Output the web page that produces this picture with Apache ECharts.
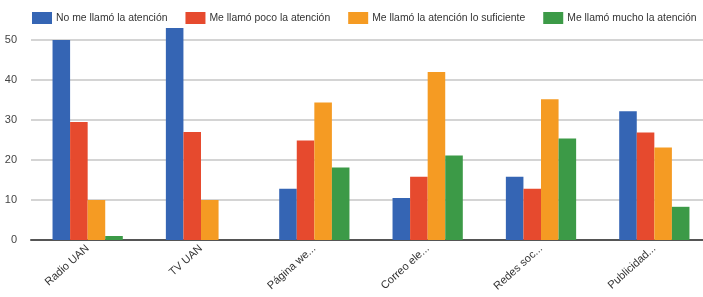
<!DOCTYPE html>
<html>
<head>
<meta charset="utf-8">
<script src="https://cdn.jsdelivr.net/npm/echarts@6/dist/echarts.min.js"></script>
<style>
  html, body { margin: 0; padding: 0; background: #fff; }
  #main { width: 703px; height: 297px; }
</style>
</head>
<body>
<div id="main"></div>
<script>
const categories = ['Radio UAN', 'TV UAN', 'Página we...', 'Correo ele...', 'Redes soc...', 'Publicidad...'];
const seriesNames = [
  'No me llamó la atención',
  'Me llamó poco la atención',
  'Me llamó la atención lo suficiente',
  'Me llamó mucho la atención'
];
const noAtencion = [50, 53, 12.8, 10.5, 15.8, 32.2];
const pocoAtencion = [29.5, 27, 24.9, 15.8, 12.8, 26.9];
const suficiente = [10, 10, 34.4, 42, 35.2, 23.1];
const muchoAtencion = [1, 0, 18.1, 21.1, 25.4, 8.3];
const yTicks = [0, 10, 20, 30, 40, 50];

const colors = ['#3565b4', '#e64a2e', '#f59b23', '#3c9a47'];
const values = [noAtencion, pocoAtencion, suficiente, muchoAtencion];

const chart = echarts.init(document.getElementById('main'));

chart.setOption({
  animation: false,
  color: colors,
  textStyle: { fontFamily: 'Liberation Sans, Arial, sans-serif' },
  legend: {
    top: 7,
    left: 27,
    width: 690,
    itemWidth: 20,
    itemHeight: 12,
    itemGap: 18,
    icon: 'rect',
    textStyle: { fontSize: 10.4, color: '#333', padding: [0, 0, 0, -1] },
    data: seriesNames
  },
  // the plot runs a little past the right edge of the picture
  grid: { left: 31, width: 680, top: 40, bottom: 57, outerBoundsMode: 'none' },
  xAxis: {
    type: 'category',
    data: categories,
    axisLine: { lineStyle: { color: '#555', width: 2 } },
    axisTick: { show: false },
    axisLabel: { rotate: 42, margin: 7, fontSize: 11, color: '#333' }
  },
  yAxis: {
    type: 'value',
    min: yTicks[0],
    max: yTicks[yTicks.length - 1],
    interval: 10,
    axisLine: { show: false },
    axisTick: { show: false },
    axisLabel: { fontSize: 11, color: '#444', margin: 14 },
    splitLine: { lineStyle: { color: '#d4d4d4', width: 2 } }
  },
  series: seriesNames.map((name, i) => ({
    name: name,
    type: 'bar',
    data: values[i],
    clip: false,
    barGap: '0%',
    barCategoryGap: '38%'
  }))
});
</script>
</body>
</html>
